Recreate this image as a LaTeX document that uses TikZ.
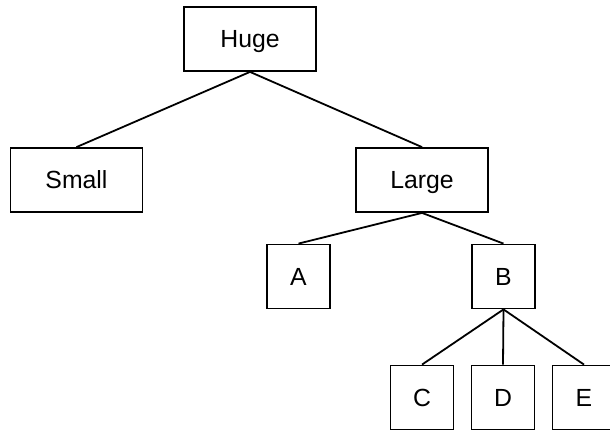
\documentclass[tikz,border=0pt]{standalone}
\usepackage{fontspec}
\setmainfont{Liberation Sans}
\begin{document}
\begin{tikzpicture}[x=1pt,y=-1pt,
  box/.style={draw,line width=1.8pt,inner sep=0pt,font=\fontsize{24.8}{28}\selectfont,
    text height=17.8pt,text depth=0pt,minimum height=64pt},
  wide/.style={box,minimum width=132pt},
  narrow/.style={box,minimum width=63pt},
  edge/.style={line width=1.8pt}]
\useasboundingbox (0,0) rectangle (610,431);
\clip (0,0) rectangle (610,431);
\node[wide]   (huge)  at (250,39)    {Huge};
\node[wide]   (small) at (76.5,180)  {Small};
\node[wide]   (large) at (422,180)   {Large};
\node[narrow] (a)     at (298.5,276.5) {A};
\node[narrow] (b)     at (503.5,276.5) {B};
\node[narrow] (c)     at (422,397.5) {C};
\node[narrow] (d)     at (503,397.5) {D};
\node[narrow] (e)     at (584,397.5) {E};
\draw[edge] (huge.south) -- (small.north);
\draw[edge] (huge.south) -- (large.north);
\draw[edge] (large.south) -- (a.north);
\draw[edge] (large.south) -- (b.north);
\draw[edge] (b.south) -- (c.north);
\draw[edge] (b.south) -- (d.north);
\draw[edge] (b.south) -- (e.north);
\end{tikzpicture}
\end{document}
